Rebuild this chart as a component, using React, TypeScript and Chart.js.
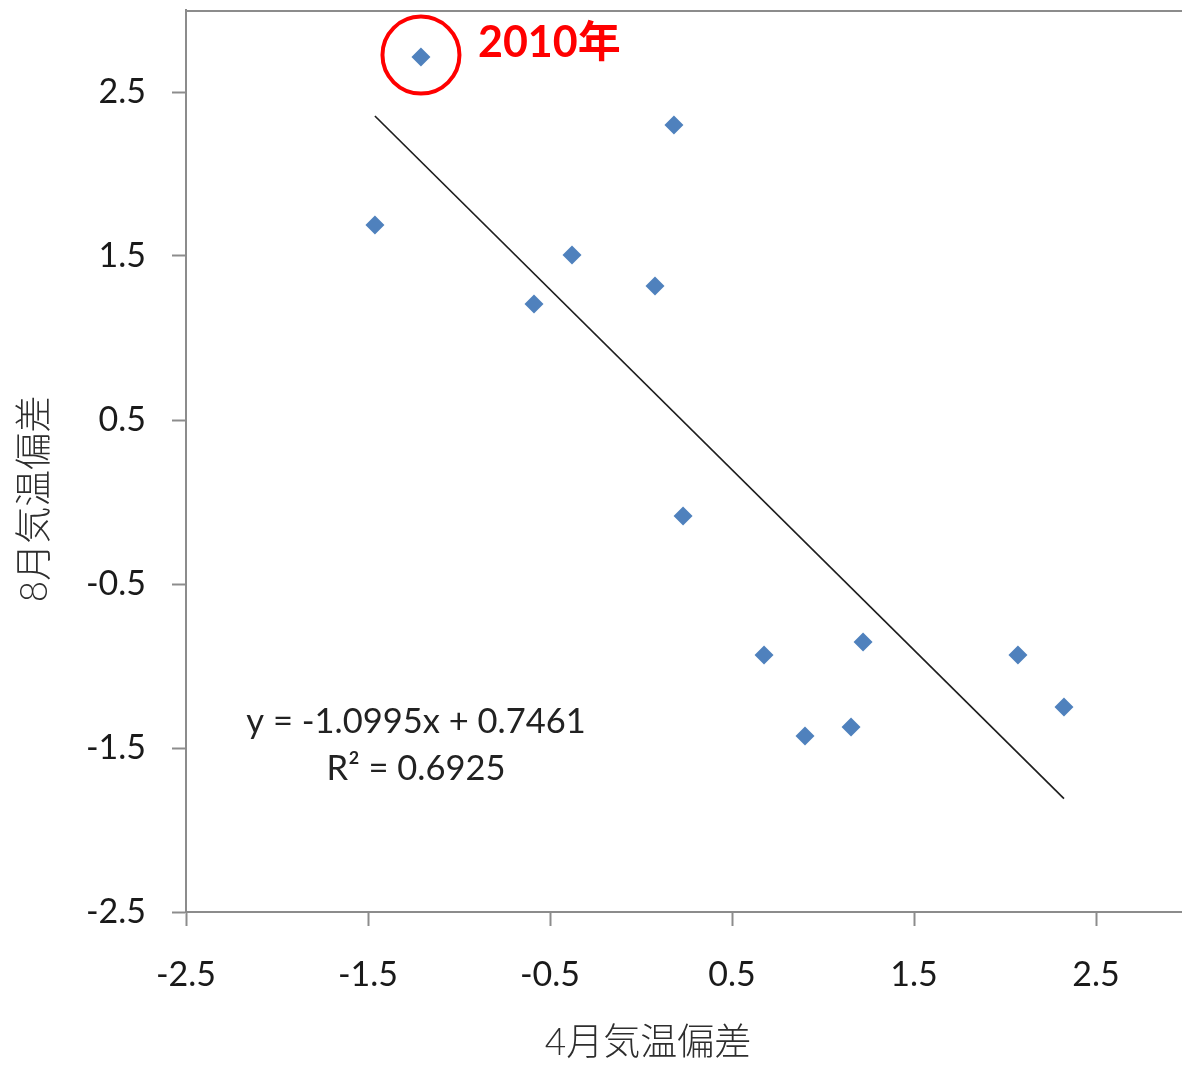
import React, { useEffect, useRef } from 'react';
import { Chart, registerables } from 'chart.js';

Chart.register(...registerables);

// April temperature anomaly (x) and August temperature anomaly (y)
const aprilAnomaly = [-1.209, -1.462, 0.181, -0.379, -0.588, 0.077, 0.231, 0.676, 1.22, 2.071, 2.324, 0.901, 1.154];
const augustAnomaly = [2.713, 1.689, 2.299, 1.506, 1.207, 1.317, -0.085, -0.933, -0.854, -0.933, -1.25, -1.427, -1.372];
const xTickValues = [-2.5, -1.5, -0.5, 0.5, 1.5, 2.5];
const yTickValues = [-2.5, -1.5, -0.5, 0.5, 1.5, 2.5];
const trendSlope = -1.0995;
const trendIntercept = 0.7461;
const trendR2 = 0.6925;
const highlightIndex = 0;
const highlightLabel = '2010年';
const xTitle = '4月気温偏差';
const yTitle = '8月気温偏差';

const FONT = "Lato, 'Noto Sans CJK JP', sans-serif";
const TITLE_FONT = "Lato, 'Noto Sans CJK JP', sans-serif";
const AXIS_GRAY = '#8c8c8c';
const POINT_BLUE = '#4F81BD';

export default function App() {
  const canvasRef = useRef<HTMLCanvasElement | null>(null);

  useEffect(() => {
    const canvas = canvasRef.current;
    if (!canvas) return;
    const points = aprilAnomaly.map((x, i) => ({ x, y: augustAnomaly[i] }));
    const minX = Math.min(...aprilAnomaly);
    const maxX = Math.max(...aprilAnomaly);
    const trend = [
      { x: minX, y: trendSlope * minX + trendIntercept },
      { x: maxX, y: trendSlope * maxX + trendIntercept },
    ];

    const annotationPlugin = {
      id: 'annotations',
      afterDraw(chart: any) {
        const { ctx, chartArea, scales } = chart;
        ctx.save();
        // top border of plot area
        ctx.strokeStyle = AXIS_GRAY;
        ctx.lineWidth = 2;
        ctx.beginPath();
        ctx.moveTo(chartArea.left, chartArea.top + 1);
        ctx.lineTo(chartArea.right + 10, chartArea.top + 1);
        ctx.stroke();

        // axis titles
        ctx.fillStyle = '#2e2e2e';
        ctx.font = `300 37px ${TITLE_FONT}`;
        ctx.textAlign = 'center';
        ctx.textBaseline = 'middle';
        ctx.fillText(xTitle, 648, 1043);
        ctx.save();
        ctx.translate(35, 499);
        ctx.rotate(-Math.PI / 2);
        ctx.fillText(yTitle, 0, 0);
        ctx.restore();

        // highlight circle
        const meta = chart.getDatasetMeta(1);
        const el = meta.data[highlightIndex];
        if (el) {
          ctx.strokeStyle = '#FF0000';
          ctx.lineWidth = 4;
          ctx.beginPath();
          ctx.arc(el.x, el.y - 2, 38.5, 0, Math.PI * 2);
          ctx.stroke();
          ctx.fillStyle = '#FF0000';
          ctx.font = `bold 43px ${FONT}`;
          ctx.textAlign = 'left';
          ctx.textBaseline = 'middle';
          ctx.fillText(highlightLabel, el.x + 57, el.y - 14);
        }

        // trendline equation
        const ex = scales.x.getPixelForValue(-1.236);
        ctx.fillStyle = '#222222';
        ctx.font = `34.5px ${FONT}`;
        ctx.textAlign = 'center';
        ctx.textBaseline = 'middle';
        const sign = trendIntercept >= 0 ? '+' : '-';
        ctx.fillText(`y = ${trendSlope.toFixed(4)}x ${sign} ${Math.abs(trendIntercept).toFixed(4)}`, ex, scales.y.getPixelForValue(-1.341));
        ctx.fillText(`R² = ${trendR2.toFixed(4)}`, ex, scales.y.getPixelForValue(-1.63));
        ctx.restore();
      },
    };

    const zeroPad = (s: any) => {
      s.paddingTop = 0;
      s.paddingBottom = 0;
      s.paddingLeft = 0;
      s.paddingRight = 0;
    };

    const chart = new Chart(canvas, {
      type: 'scatter',
      data: {
        datasets: [
          {
            type: 'line',
            label: 'trend',
            data: trend,
            borderColor: '#1e1e1e',
            borderWidth: 1.7,
            pointRadius: 0,
            fill: false,
          } as any,
          {
            label: 'data',
            data: points,
            pointStyle: 'rectRot',
            pointRadius: 9.5,
            backgroundColor: POINT_BLUE,
            borderColor: POINT_BLUE,
            borderWidth: 0,
          },
        ],
      },
      options: {
        animation: false,
        responsive: false,
        layout: { autoPadding: false, padding: { top: 10, left: 0, right: 0, bottom: 0 } },
        plugins: { legend: { display: false }, tooltip: { enabled: false } },
        scales: {
          x: {
            type: 'linear',
            min: -2.5,
            max: 2.9725,
            afterBuildTicks: (s: any) => {
              s.ticks = xTickValues.map((v) => ({ value: v }));
            },
            afterFit: (s: any) => {
              s.height = 154;
              zeroPad(s);
            },
            grid: { drawOnChartArea: false, drawTicks: true, tickLength: 14, tickColor: AXIS_GRAY, tickWidth: 2 },
            border: { display: true, color: AXIS_GRAY, width: 2 },
            ticks: {
              font: { family: FONT, size: 34 },
              color: '#1a1a1a',
              padding: 29,
              maxRotation: 0,
              autoSkip: false,
              callback: (v: any) => Number(v).toFixed(1),
            },
          },
          y: {
            type: 'linear',
            min: -2.5,
            max: 3.0,
            afterBuildTicks: (s: any) => {
              s.ticks = yTickValues.map((v) => ({ value: v }));
            },
            afterFit: (s: any) => {
              s.width = 186;
              zeroPad(s);
            },
            grid: { drawOnChartArea: false, drawTicks: true, tickLength: 14, tickColor: AXIS_GRAY, tickWidth: 2 },
            border: { display: true, color: AXIS_GRAY, width: 2 },
            ticks: {
              font: { family: FONT, size: 34 },
              color: '#1a1a1a',
              padding: 26,
              autoSkip: false,
              callback: (v: any) => Number(v).toFixed(1),
            },
          },
        },
      },
      plugins: [annotationPlugin],
    });

    return () => chart.destroy();
  }, []);

  return (
    <div style={{ position: 'absolute', left: 0, top: 0, width: 1182, height: 1066, background: '#ffffff' }}>
      <canvas ref={canvasRef} width={1182} height={1066} style={{ display: 'block' }} />
    </div>
  );
}
